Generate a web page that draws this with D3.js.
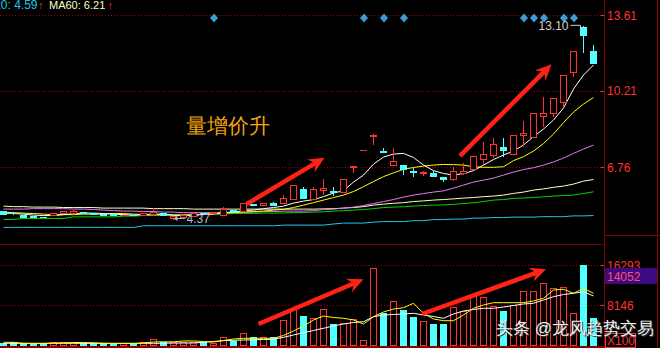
<!DOCTYPE html>
<html>
<head>
<meta charset="utf-8">
<script src="https://cdn.jsdelivr.net/npm/d3@7"></script>
<style>
  html, body { margin: 0; padding: 0; background: #000; }
  svg { display: block; }
  text { font-family: "Liberation Sans", Arial, sans-serif; }
</style>
</head>
<body>
<div id="chart"></div>
<script>
// ----- Data -----
const open  = [4.76,4.69,4.57,4.54,4.52,4.61,4.67,4.69,4.735,4.69, 4.63,4.63,4.58,4.60,4.61,4.645,4.69,4.46,4.51,4.55,
               4.70,4.66,4.61,4.80,4.76,5.07,5.06,5.14,5.14,5.32, 5.78,5.29,5.71,5.67,5.62,6.78,7.52,8.17,7.49,6.83,
               6.86,6.57,6.51,6.50,6.29,6.22,6.49,6.64,7.12,7.31, 7.64,7.34,8.17,8.11,9.035,9.16,9.66,11.01,13.05,11.96];
const high  = [4.80,4.74,4.60,4.56,4.54,4.70,4.77,4.84,4.75,4.70, 4.65,4.65,4.63,4.62,4.68,4.91,4.71,4.56,4.58,4.76,
               4.72,4.74,4.99,4.86,5.13,5.11,5.12,5.21,5.51,5.93, 5.89,5.89,6.22,5.89,6.19,6.79,7.52,8.26,7.64,7.61,
               6.87,6.73,6.59,6.59,6.30,6.79,6.95,7.24,7.91,8.08, 8.08,8.18,8.855,9.16,9.91,9.87,10.92,12.00,13.10,12.26];
const low   = [4.62,4.62,4.48,4.48,4.49,4.60,4.66,4.68,4.66,4.62, 4.58,4.58,4.56,4.55,4.60,4.63,4.59,4.37,4.49,4.53,
               4.64,4.64,4.60,4.74,4.75,5.00,5.05,5.01,5.12,5.30, 5.34,5.28,5.51,5.47,5.60,6.52,7.52,7.76,7.42,6.81,
               6.41,6.34,6.37,6.33,6.11,6.14,6.41,6.62,6.86,7.18, 7.21,7.32,7.66,8.10,8.585,9.01,9.43,10.81,11.89,11.42];
const close = [4.645,4.66,4.50,4.50,4.51,4.69,4.75,4.76,4.69,4.63, 4.60,4.60,4.61,4.57,4.66,4.72,4.61,4.54,4.57,4.69,
               4.66,4.72,4.87,4.79,5.11,5.05,5.11,5.02,5.36,5.92, 5.36,5.78,5.81,5.65,6.19,6.79,7.52,8.18,7.42,7.04,
               6.67,6.55,6.52,6.34,6.22,6.56,6.56,7.24,7.34,7.79, 7.51,8.18,8.29,9.16,9.16,9.86,10.91,11.99,12.67,11.43];
const volume = [300,500,350,350,350,550,550,550,350,350, 350,350,270,350,550,1160,470,470,470,470,
                470,407,1426,672,2383,1426,1426,1426,4889,7130, 5765,5296,7130,4074,4278,5093,815,15481,6315,8759,
                6926,5561,4746,4074,4074,7680,6800,9840,9716,7740, 6790,7944,10857,10857,12426,11550,11753,6315,16293,5439];

// price moving averages
const ma5  = [4.70,4.68,4.655,4.61,4.59,4.59,4.63,4.68,4.70,4.70, 4.68,4.655,4.63,4.61,4.63,4.655,4.655,4.61,4.59,4.61,
              4.655,4.68,4.72,4.745,4.81,4.835,4.90,4.95,5.015,5.15, 5.24,5.31,5.44,5.60,5.71,6.095,6.41,6.905,7.22,7.355,
              7.386,7.20,6.86,6.61,6.48,6.41,6.48,6.61,6.86,7.11, 7.31,7.49,7.76,8.14,8.48,8.885,9.425,10.28,10.91,11.36];
const ma10 = [4.745,4.72,4.70,4.68,4.655,4.63,4.63,4.63,4.655,4.655, 4.655,4.68,4.68,4.655,4.63,4.63,4.63,4.61,4.61,4.63,
              4.63,4.655,4.70,4.72,4.745,4.77,4.79,4.835,4.87,4.95, 5.06,5.17,5.285,5.40,5.51,5.67,5.89,6.12,6.34,6.51,
              6.67,6.75,6.815,6.86,6.89,6.88,6.86,6.785,6.76,6.76, 6.785,7.06,7.24,7.49,7.83,8.255,8.77,9.245,9.605,9.90];
const ma20 = [4.88,4.88,4.88,4.90,4.90,4.90,4.90,4.88,4.88,4.86, 4.835,4.81,4.79,4.79,4.77,4.77,4.745,4.745,4.72,4.72,
              4.72,4.72,4.72,4.745,4.745,4.745,4.77,4.77,4.79,4.79, 4.79,4.81,4.86,4.88,4.925,4.97,5.04,5.13,5.22,5.31,
              5.42,5.51,5.58,5.645,5.70,5.825,5.96,6.095,6.185,6.275, 6.41,6.545,6.66,6.74,6.86,7.00,7.175,7.385,7.58,7.76];
const ma60 = [5.015,4.99,4.99,4.97,4.97,4.97,4.95,4.95,4.95,4.95, 4.925,4.925,4.925,4.925,4.925,4.90,4.90,4.90,4.90,4.88,
              4.88,4.88,4.88,4.88,4.88,4.88,4.88,4.88,4.88,4.88, 4.88,4.88,4.89,4.90,4.925,4.95,4.99,5.06,5.105,5.14,
              5.17,5.22,5.25,5.285,5.31,5.34,5.375,5.40,5.44,5.465, 5.51,5.585,5.645,5.735,5.79,5.86,5.915,6.005,6.14,6.21];
const ma90 = [4.415,4.415,4.46,4.46,4.46,4.46,4.46,4.53,4.53,4.53, 4.53,4.53,4.565,4.565,4.59,4.59,4.61,4.61,4.63,4.63,
              4.655,4.655,4.655,4.68,4.685,4.685,4.70,4.70,4.71,4.72, 4.73,4.745,4.76,4.79,4.81,4.835,4.86,4.90,4.95,4.97,
              4.985,5.015,5.04,5.06,5.07,5.09,5.13,5.165,5.22,5.285, 5.31,5.36,5.38,5.40,5.43,5.465,5.49,5.51,5.58,5.66];
const ma120 = [4.057,4.057,4.057,4.057,4.057,4.057,4.057,4.057,4.057,4.057, 4.057,4.057,4.057,4.057,4.13,4.13,4.13,4.13,4.13,4.13,
               4.13,4.13,4.13,4.13,4.13,4.13,4.13,4.13,4.16,4.16, 4.16,4.16,4.16,4.21,4.25,4.25,4.25,4.295,4.32,4.32,
               4.32,4.36,4.36,4.41,4.41,4.43,4.43,4.475,4.475,4.50, 4.50,4.52,4.52,4.52,4.54,4.54,4.54,4.575,4.575,4.59];

// volume moving averages
const volMa5  = [550,550,346,306,306,407,448,509,509,448, 346,306,306,306,407,611,652,652,815,815,
                 713,611,917,1222,1365,1365,1365,1365,1935,2852, 3870,5093,5907,5602,5439,5093,4278,5765,6722,7333,
                 7598,8494,6457,5296,4950,4950,6111,7476,8148,8617, 8617,8617,8617,8963,9513,11204,11346,10531,11550,10531];
const volMa10 = [346,346,346,346,346,346,346,346,346,346, 346,346,346,346,346,346,366,387,407,407,
                 550,713,876,957,1019,1059,1120,1161,1568,2037, 2506,2954,3402,3870,4278,4583,4746,5765,6111,6213,
                 6315,6457,6111,5805,5439,6315,6926,7231,7476,7476, 7741,8046,8352,8494,9167,9839,10287,10531,10857,9981];

const priceTicks = [13.61, 10.21, 6.76];
const volTicks = [16293, 8146];
const volNow = 14052;
const signalIdx = [21, 36, 38, 40, 52, 53, 54, 56, 57];
const lowMark = { i: 17, value: 4.37 };
const highMark = { i: 58, value: 13.10 };

// arrows in data space: [index, value]
const priceArrows = [
  [[24.3, 5.10], [32.1, 7.19]],
  [[45.65, 7.27], [54.8, 11.39]]
];
const volArrows = [
  [[25.5, 4278], [36.0, 13383]],
  [[41.85, 6315], [54.25, 15420]]
];

// ----- Config -----
const width = 660, height = 348;
const axisX = 604;
const RED = "#ff3232", CYAN = "#54ffff", GRID = "#a00000", FRAME = "#8c0000";

const svg = d3.select("#chart").append("svg")
  .attr("width", width).attr("height", height)
  .style("background", "#000");

const x  = d3.scaleLinear().domain([0, 59]).range([3.5, 593.5]);
const y  = d3.scaleLinear().domain([6.76, 13.61]).range([167.3, 15]);
const yv = d3.scaleLinear().domain([0, 16293]).range([345, 265]);

const idx = d3.range(open.length);
const isUp = i => close[i] >= open[i];

// ----- Frame + grid -----
const frame = svg.append("g").attr("shape-rendering", "crispEdges");
frame.append("line").attr("x1", axisX + 0.5).attr("x2", axisX + 0.5).attr("y1", 0).attr("y2", height)
  .attr("stroke", FRAME);
frame.append("line").attr("x1", 657.5).attr("x2", 657.5).attr("y1", 0).attr("y2", height)
  .attr("stroke", FRAME);
frame.append("line").attr("x1", 0).attr("x2", axisX).attr("y1", 244.5).attr("y2", 244.5)
  .attr("stroke", "#6e0000");
frame.append("line").attr("x1", axisX).attr("x2", width).attr("y1", 235.5).attr("y2", 235.5)
  .attr("stroke", FRAME);
frame.append("rect").attr("x", 0).attr("y", 345.5).attr("width", axisX).attr("height", 3)
  .attr("fill", FRAME);

frame.selectAll("line.pgrid").data(priceTicks).join("line")
  .attr("class", "pgrid")
  .attr("x1", 0).attr("x2", axisX)
  .attr("y1", d => Math.round(y(d)) + 0.5).attr("y2", d => Math.round(y(d)) + 0.5)
  .attr("stroke", GRID).attr("stroke-dasharray", "1,2");
frame.selectAll("line.vgrid").data(volTicks).join("line")
  .attr("class", "vgrid")
  .attr("x1", 0).attr("x2", axisX)
  .attr("y1", d => Math.round(yv(d)) + 0.5).attr("y2", d => Math.round(yv(d)) + 0.5)
  .attr("stroke", GRID).attr("stroke-dasharray", "1,2");

// ----- Axis labels -----
const ax = svg.append("g").attr("font-size", 12).attr("fill", RED);
ax.selectAll("text.pt").data(priceTicks).join("text")
  .attr("class", "pt").attr("x", 607).attr("y", d => y(d) + 4.5).text(d => d.toFixed(2));
ax.selectAll("text.vt").data(volTicks).join("text")
  .attr("class", "vt").attr("x", 607).attr("y", d => yv(d) + 4.5).text(d => d);
frame.selectAll("line.tk").data(priceTicks.map(y).concat(volTicks.map(yv))).join("line")
  .attr("class", "tk")
  .attr("x1", 601).attr("x2", axisX).attr("y1", d => Math.round(d) + 0.5).attr("y2", d => Math.round(d) + 0.5)
  .attr("stroke", RED);

// current volume box
svg.append("rect").attr("x", 605).attr("y", Math.round(yv(volNow)) - 8).attr("width", 52).attr("height", 16)
  .attr("fill", "#3e0a82");
svg.append("text").attr("x", 607).attr("y", yv(volNow) + 4.5).attr("font-size", 12)
  .attr("fill", "#ff4f6f").text(volNow);

// X100 unit box
svg.append("rect").attr("x", 605.5).attr("y", 333.5).attr("width", 30).attr("height", 14)
  .attr("fill", "none").attr("stroke", RED);
svg.append("text").attr("x", 607).attr("y", 345).attr("font-size", 12).attr("fill", RED).text("X100");

// ----- Moving averages (price) -----
const plot = svg.append("g");
const line = d3.line().x((d, i) => x(i)).y(d => y(d));
const maSeries = [
  { values: ma120, color: "#1ec8e6" },
  { values: ma90,  color: "#00d800" },
  { values: ma60,  color: "#ffffc0" },
  { values: ma20,  color: "#e878ee" },
  { values: ma10,  color: "#ffff00" },
  { values: ma5,   color: "#ffffff" }
];
plot.selectAll("path.ma").data(maSeries).join("path")
  .attr("class", "ma")
  .attr("d", d => line(d.values))
  .attr("fill", "none").attr("stroke", d => d.color).attr("stroke-width", 1);

// ----- Candles -----
const candles = svg.append("g").attr("shape-rendering", "crispEdges");
candles.selectAll("line").data(idx).join("line")
  .attr("x1", i => x(i)).attr("x2", i => x(i))
  .attr("y1", i => y(high[i])).attr("y2", i => y(low[i]))
  .attr("stroke", i => isUp(i) ? RED : CYAN);
candles.selectAll("rect").data(idx).join("rect")
  .attr("x", i => x(i) - 3).attr("width", 6)
  .attr("y", i => y(Math.max(open[i], close[i])))
  .attr("height", i => Math.max(0.5, Math.abs(y(open[i]) - y(close[i]))))
  .attr("fill", i => isUp(i) ? "#000" : CYAN)
  .attr("stroke", i => isUp(i) ? RED : CYAN);

// ----- Volume -----
const vol = svg.append("g").attr("shape-rendering", "crispEdges");
vol.selectAll("rect").data(idx).join("rect")
  .attr("x", i => x(i) - 3).attr("width", 6)
  .attr("y", i => yv(volume[i]))
  .attr("height", i => Math.max(0.5, yv(0) - yv(volume[i])))
  .attr("fill", i => isUp(i) ? "#000" : CYAN)
  .attr("stroke", i => isUp(i) ? RED : CYAN);

const vline = d3.line().x((d, i) => x(i)).y(d => yv(d));
svg.append("path").attr("d", vline(volMa10)).attr("fill", "none").attr("stroke", "#ffffff");
svg.append("path").attr("d", vline(volMa5)).attr("fill", "none").attr("stroke", "#ffff00");

// ----- Signal diamonds -----
svg.selectAll("path.sig").data(signalIdx).join("path")
  .attr("class", "sig")
  .attr("transform", i => `translate(${x(i) + 0.5},18)`)
  .attr("d", "M0,-4.5L4,0L0,4.5L-4,0Z")
  .attr("fill", "#3d9bd6");

// ----- High / low marks -----
const markColor = "#b8bcc8";
const lx = x(lowMark.i), ly = y(lowMark.value) - 2;
svg.append("line").attr("x1", lx).attr("x2", lx + 12).attr("y1", ly).attr("y2", ly).attr("stroke", markColor);
svg.append("path").attr("d", `M${lx},${ly}L${lx + 4},${ly - 2.5}L${lx + 4},${ly + 2.5}Z`).attr("fill", markColor);
svg.append("text").attr("x", lx + 13).attr("y", ly + 4.5).attr("font-size", 12).attr("fill", markColor)
  .text(lowMark.value.toFixed(2));

const hx = x(highMark.i), hy = y(highMark.value) - 1;
svg.append("line").attr("x1", hx - 13).attr("x2", hx - 3).attr("y1", hy).attr("y2", hy).attr("stroke", "#d0d0d0");
svg.append("line").attr("x1", hx - 3).attr("x2", hx - 3).attr("y1", hy).attr("y2", hy + 3).attr("stroke", "#d0d0d0");
svg.append("text").attr("x", hx - 15).attr("y", hy + 4.5).attr("font-size", 12).attr("fill", "#d0d0d0")
  .attr("text-anchor", "end").text(highMark.value.toFixed(2));

// ----- Big red arrows -----
function arrowPath(p0, p1, shaft, headLen, headW) {
  const dx = p1[0] - p0[0], dy = p1[1] - p0[1];
  const len = Math.hypot(dx, dy), ux = dx / len, uy = dy / len;
  const nx = -uy, ny = ux;
  const bx = p1[0] - ux * headLen * 0.75, by = p1[1] - uy * headLen * 0.75;
  const wx = p1[0] - ux * headLen, wy = p1[1] - uy * headLen;
  const pts = [
    [p0[0] + nx * shaft / 2, p0[1] + ny * shaft / 2],
    [bx + nx * shaft / 2, by + ny * shaft / 2],
    [wx + nx * headW / 2, wy + ny * headW / 2],
    p1,
    [wx - nx * headW / 2, wy - ny * headW / 2],
    [bx - nx * shaft / 2, by - ny * shaft / 2],
    [p0[0] - nx * shaft / 2, p0[1] - ny * shaft / 2]
  ];
  return "M" + pts.map(p => p.join(",")).join("L") + "Z";
}
svg.selectAll("path.parrow").data(priceArrows).join("path")
  .attr("class", "parrow")
  .attr("d", d => arrowPath([x(d[0][0]), y(d[0][1])], [x(d[1][0]), y(d[1][1])], 4.5, 16, 15))
  .attr("fill", "#ff2216");
svg.selectAll("path.varrow").data(volArrows).join("path")
  .attr("class", "varrow")
  .attr("d", d => arrowPath([x(d[0][0]), yv(d[0][1])], [x(d[1][0]), yv(d[1][1])], 4.5, 16, 15))
  .attr("fill", "#ff2216");

// ----- Legend -----
legendText();
function legendText() {
  const g = svg.append("g");
  g.append("text").attr("x", 37.5).attr("y", 9).attr("font-size", 12).attr("text-anchor", "end")
    .attr("fill", "#1ec8e6").text("MA120: 4.59");
  g.append("text").attr("x", 38).attr("y", 9).attr("font-size", 11).attr("fill", RED).text("↑");
  g.append("text").attr("x", 49).attr("y", 9).attr("font-size", 11).attr("fill", "#ffffc0").text("MA60: 6.21");
  g.append("text").attr("x", 107.5).attr("y", 9).attr("font-size", 11).attr("fill", RED).text("↑");
}

// ----- Annotation text -----
svg.append("text").attr("x", 186).attr("y", 133)
  .attr("font-family", "'Noto Sans CJK SC', sans-serif").attr("font-size", 20.5)
  .attr("fill", "#f2a30f").text("量增价升");

// watermark
const wm = "头条 @龙风趋势交易";
svg.append("text").attr("x", 497).attr("y", 335)
  .attr("font-family", "'Noto Sans CJK SC', sans-serif").attr("font-size", 17)
  .attr("fill", "#333").text(wm);
svg.append("text").attr("x", 496).attr("y", 334)
  .attr("font-family", "'Noto Sans CJK SC', sans-serif").attr("font-size", 17)
  .attr("fill", "#f2f2f2").text(wm);
</script>
</body>
</html>
